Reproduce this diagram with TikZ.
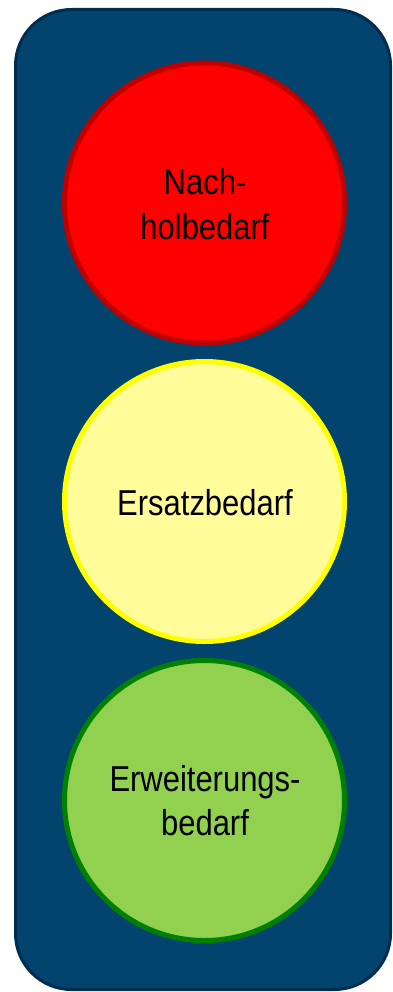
\documentclass[tikz,border=0pt]{standalone}
\usepackage{fontspec}
\newfontfamily\lightfont[FakeStretch=0.86]{Liberation Sans}
\definecolor{housing}{HTML}{02446D}
\definecolor{housingedge}{HTML}{002D4E}
\definecolor{redfill}{HTML}{FF0000}
\definecolor{rededge}{HTML}{C00000}
\definecolor{yellowfill}{HTML}{FFFC99}
\definecolor{yellowedge}{HTML}{FFFF00}
\definecolor{greenfill}{HTML}{92D050}
\definecolor{greenedge}{HTML}{008000}
\tikzset{
  lamp/.style={circle, minimum size=280pt, inner sep=0pt, line width=5pt},
  lamptext/.style={align=center, anchor=base, inner sep=0pt,
    font=\lightfont\fontsize{36}{44.5}\selectfont, text=black}
}
\begin{document}
\begin{tikzpicture}[x=1pt,y=-1pt]
\useasboundingbox (0,0) rectangle (392,992);
\draw[housingedge, fill=housing, line width=3pt, rounded corners=56pt] (15.5,9.5) rectangle (390.5,989.5);
\node[lamp, draw=rededge, fill=redfill] (red) at (204.5,203) {};
\node[lamp, draw=yellowedge, fill=yellowfill] (yellow) at (204.5,501.5) {};
\node[lamp, draw=greenedge, fill=greenfill] (green) at (204.5,800.5) {};
\node[lamptext] (redtext) at (205,239.5) {Nach-\\holbedarf};
\node[lamptext] (yellowtext) at (205,515.5) {Ersatzbedarf};
\node[lamptext] (greentext) at (205,835.5) {Erweiterungs-\\bedarf};
\end{tikzpicture}
\end{document}
